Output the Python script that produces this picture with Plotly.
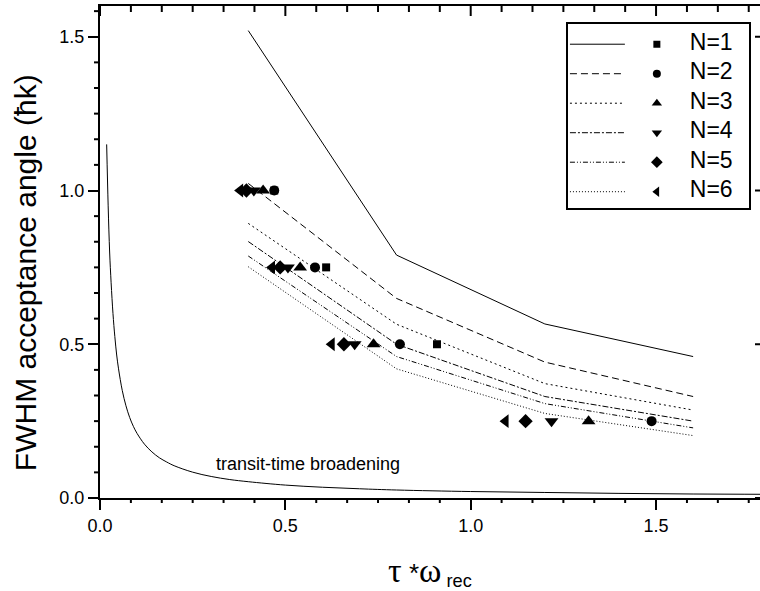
import plotly.graph_objects as go

tt_x = [0.018, 0.022, 0.026, 0.030, 0.035, 0.040, 0.045, 0.050, 0.060, 0.070,
        0.080, 0.090, 0.10, 0.12, 0.14, 0.16, 0.18, 0.20, 0.25, 0.30,
        0.35, 0.40, 0.50, 0.60, 0.70, 0.80, 1.0, 1.2, 1.4, 1.6, 1.8]
tt_y = [1.15, 0.95, 0.80, 0.70, 0.60, 0.525, 0.465, 0.42, 0.35, 0.30,
        0.262, 0.233, 0.21, 0.175, 0.15, 0.131, 0.117, 0.105, 0.084, 0.070,
        0.060, 0.053, 0.042, 0.035, 0.030, 0.026, 0.021, 0.018, 0.015, 0.013, 0.012]

# Calculated acceptance widths for N = 1..6 pulses
model_x = [0.4, 0.8, 1.2, 1.6]
model_n1 = [1.52, 0.790, 0.566, 0.460]
model_n2 = [1.023, 0.649, 0.442, 0.330]
model_n3 = [0.893, 0.565, 0.372, 0.286]
model_n4 = [0.834, 0.500, 0.330, 0.250]
model_n5 = [0.787, 0.460, 0.307, 0.228]
model_n6 = [0.752, 0.420, 0.275, 0.203]

# Measured widths: rows of constant width, one point per N
meas_y = [1.0, 0.75, 0.5, 0.25]
meas_n1 = [0.470, 0.610, 0.909, 1.790]
meas_n2 = [0.470, 0.580, 0.809, 1.488]
meas_n3 = [0.440, 0.540, 0.738, 1.318]
meas_n4 = [0.415, 0.507, 0.687, 1.218]
meas_n5 = [0.395, 0.486, 0.658, 1.148]
meas_n6 = [0.378, 0.464, 0.625, 1.094]

labels = ["N=1", "N=2", "N=3", "N=4", "N=5", "N=6"]

models = [model_n1, model_n2, model_n3, model_n4, model_n5, model_n6]
measured = [meas_n1, meas_n2, meas_n3, meas_n4, meas_n5, meas_n6]
symbols = ["square", "circle", "triangle-up", "triangle-down", "diamond", "triangle-left"]
sizes = [8, 10, 12, 12, 11, 12]
legend_sizes = [7, 8, 9, 9, 9, 9]
dashes = ["solid", "7px,4px", "2px,3px", "6px,2px,2px,2px",
          "5px,2px,1px,2px,1px,2px", "1px,2px"]

FONT = "Liberation Sans, Arial, Helvetica, sans-serif"
SERIF = "'Liberation Serif', 'DejaVu Serif', serif"
INK = "black"

X_MAX, Y_MAX = 1.7804, 1.6
STEP = 1 / 12  # minor tick spacing; every sixth one is a major tick
x_ticks = [k * STEP for k in range(0, 22)]
y_ticks = [k * STEP for k in range(0, 20)]

fig = go.Figure()

fig.add_trace(go.Scatter(x=tt_x, y=tt_y, mode="lines", line=dict(color=INK, width=1, shape="spline"),
                         showlegend=False, hoverinfo="skip"))

for ys, dash in zip(models, dashes):
    fig.add_trace(go.Scatter(x=model_x, y=ys, mode="lines",
                             line=dict(color=INK, width=1, dash=dash),
                             showlegend=False))

for xs, sym, sz in zip(measured, symbols, sizes):
    fig.add_trace(go.Scatter(x=xs, y=meas_y, mode="markers",
                             marker=dict(symbol=sym, size=sz, color=INK, line=dict(width=0)),
                             cliponaxis=False, showlegend=False))

# Legend drawn as a small inset subplot (pixel-like units inside the box)
row0, row_step = 20, 29.5
for i, (lab, dash, sym, lsz) in enumerate(zip(labels, dashes, symbols, legend_sizes)):
    yy = row0 + i * row_step
    fig.add_trace(go.Scatter(x=[2, 57], y=[yy, yy], mode="lines", xaxis="x3", yaxis="y3",
                             line=dict(color=INK, width=1, dash=dash), showlegend=False))
    fig.add_trace(go.Scatter(x=[89], y=[yy], mode="markers", xaxis="x3", yaxis="y3",
                             marker=dict(symbol=sym, size=lsz, color=INK), showlegend=False))
    fig.add_trace(go.Scatter(x=[122], y=[yy], mode="text", text=[lab], textposition="middle right",
                             textfont=dict(family=FONT, size=23, color=INK),
                             xaxis="x3", yaxis="y3", showlegend=False))

# Tick marks drawn as pixel-sized shapes: minor outward on bottom/left,
# inward on the top frame, inward majors on the right edge
def is_major(k):
    return k % 6 == 0

shapes = []
tick_line = dict(color=INK, width=2)
for k, v in enumerate(x_ticks):
    if not is_major(k):
        shapes.append(dict(type="line", xref="x", yref="paper", ysizemode="pixel", yanchor=0,
                           x0=v, x1=v, y0=0, y1=-5, line=tick_line))
    shapes.append(dict(type="line", xref="x", yref="paper", ysizemode="pixel", yanchor=1,
                       x0=v, x1=v, y0=0, y1=-10 if is_major(k) else -6, line=tick_line))
for k, v in enumerate(y_ticks):
    if not is_major(k):
        shapes.append(dict(type="line", xref="paper", yref="y", xsizemode="pixel", xanchor=0,
                           x0=0, x1=-6, y0=v, y1=v, line=tick_line))
    else:
        shapes.append(dict(type="line", xref="paper", yref="y", xsizemode="pixel", xanchor=1,
                           x0=0, x1=-5, y0=v, y1=v, line=tick_line))

fig.update_layout(
    width=760, height=591,
    margin=dict(l=100, r=0, t=6, b=93),
    paper_bgcolor="white", plot_bgcolor="white",
    font=dict(family=FONT, color=INK),
    xaxis=dict(range=[0, X_MAX], tick0=0, dtick=0.5, tickformat=".1f",
               ticks="outside", ticklen=10, tickwidth=2, tickcolor=INK,
               showline=True, mirror=True, linewidth=2, linecolor=INK,
               showgrid=False, zeroline=False,
               tickfont=dict(size=18, family=FONT, color=INK)),
    yaxis=dict(range=[0, Y_MAX], tick0=0, dtick=0.5, tickformat=".1f",
               ticks="outside", ticklen=10, tickwidth=2, tickcolor=INK,
               showline=True, linewidth=2, linecolor=INK, showgrid=False, zeroline=False,
               tickfont=dict(size=18, family=FONT, color=INK)),
    xaxis3=dict(domain=[0.709, 0.983], anchor="y3", range=[0, 181], showline=True, mirror=True,
                linewidth=1.5, linecolor=INK, ticks="", showgrid=False, zeroline=False,
                showticklabels=False, fixedrange=True),
    yaxis3=dict(domain=[0.589, 0.963], anchor="x3", range=[184, 0], showline=True, mirror=True,
                linewidth=1.5, linecolor=INK, ticks="", showgrid=False, zeroline=False,
                showticklabels=False, fixedrange=True),
    shapes=shapes,
    annotations=[
        dict(text="transit-time broadening", x=0.3075, y=0.11, xref="x", yref="y",
             xanchor="left", yanchor="middle", showarrow=False,
             font=dict(family=FONT, size=18, color=INK)),
        dict(text="FWHM acceptance angle (ħk)", textangle=-90, x=-0.1136, y=0.457,
             xref="paper", yref="paper", xanchor="center", yanchor="middle", showarrow=False,
             font=dict(family=FONT, size=30, color=INK)),
        dict(text=f"<span style=\"font-family:{SERIF}; font-size:34px\">τ</span>"
                  "<span style=\"font-size:26px\"> *</span>"
                  f"<span style=\"font-family:{SERIF}; font-size:34px\">ω</span>"
                  "<sub> rec</sub>",
             x=0.5, y=-0.15, xref="paper", yref="paper", xanchor="center", yanchor="middle",
             showarrow=False, font=dict(family=FONT, size=26, color=INK)),
    ],
)

fig.write_html("out.html")
